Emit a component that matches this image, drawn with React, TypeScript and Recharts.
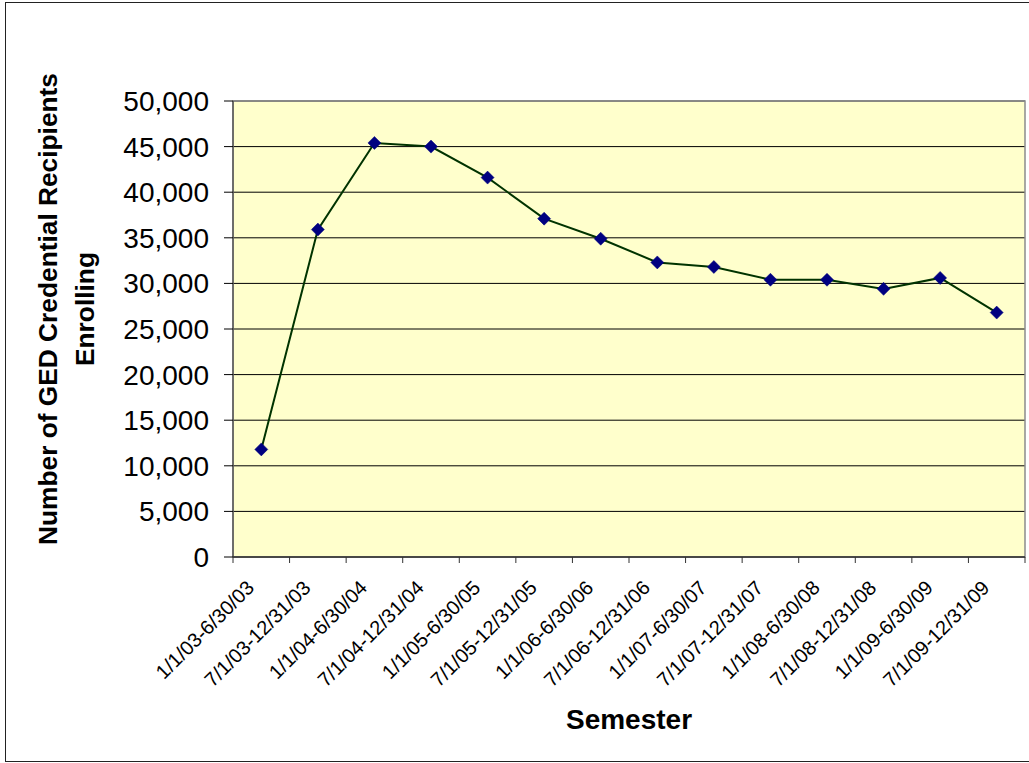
import React from 'react';
import { LineChart, Line, XAxis, YAxis, CartesianGrid, ReferenceArea } from 'recharts';

const semesters = [
  '1/1/03-6/30/03',
  '7/1/03-12/31/03',
  '1/1/04-6/30/04',
  '7/1/04-12/31/04',
  '1/1/05-6/30/05',
  '7/1/05-12/31/05',
  '1/1/06-6/30/06',
  '7/1/06-12/31/06',
  '1/1/07-6/30/07',
  '7/1/07-12/31/07',
  '1/1/08-6/30/08',
  '7/1/08-12/31/08',
  '1/1/09-6/30/09',
  '7/1/09-12/31/09',
];

const enrolling = [11800, 35900, 45400, 45000, 41600, 37100, 34900, 32300, 31800, 30400, 30400, 29400, 30600, 26800];

const yTicks = [0, 5000, 10000, 15000, 20000, 25000, 30000, 35000, 40000, 45000, 50000];

const chartData = semesters.map((semester, i) => ({ semester, enrolling: enrolling[i] }));

const FONT = '"Liberation Sans", Arial, Helvetica, sans-serif';
const lastSemester = semesters[semesters.length - 1];

function Diamond(props: any) {
  const { cx, cy } = props;
  if (cx == null || cy == null) return null;
  return (
    <polygon
      points={`${cx},${cy - 6.5} ${cx + 6.5},${cy} ${cx},${cy + 6.5} ${cx - 6.5},${cy}`}
      fill="#000080"
      stroke="#000080"
      strokeWidth={0.5}
    />
  );
}

// ticks sit on the category boundaries, labels on the centres
function SemesterTick(props: any) {
  const { x, y, payload } = props;
  const half = payload?.offset ?? 0;
  const lx = x - 6;
  const ly = y + 32;
  return (
    <g>
      <line x1={x - half} x2={x - half} y1={y} y2={y + 6} stroke="#333" />
      {payload.value === lastSemester && (
        <line x1={x + half} x2={x + half} y1={y} y2={y + 6} stroke="#333" />
      )}
      <text
        x={lx}
        y={ly}
        textAnchor="end"
        transform={`rotate(-45 ${lx} ${ly})`}
        fontSize={20}
        fontFamily={FONT}
        fill="#000"
      >
        {payload.value}
      </text>
    </g>
  );
}

function YTitle(props: any) {
  const { viewBox } = props;
  const cy = viewBox.y + viewBox.height / 2 - 20;
  const x1 = viewBox.x - 56;
  const x2 = viewBox.x - 19;
  return (
    <g fontFamily={FONT} fontWeight="bold" fontSize={26.3} fill="#000">
      <text x={x1} y={cy} textAnchor="middle" transform={`rotate(-90 ${x1} ${cy})`}>
        Number of GED Credential Recipients
      </text>
      <text x={x2} y={cy} textAnchor="middle" transform={`rotate(-90 ${x2} ${cy})`}>
        Enrolling
      </text>
    </g>
  );
}

function XTitle(props: any) {
  const { viewBox } = props;
  return (
    <text
      x={viewBox.x + viewBox.width / 2}
      y={viewBox.y + 172}
      textAnchor="middle"
      fontFamily={FONT}
      fontWeight="bold"
      fontSize={28}
      fill="#000"
    >
      Semester
    </text>
  );
}

export default function App() {
  return (
    <div style={{ position: 'absolute', left: 0, top: 0, width: 1029, height: 763, background: '#fff' }}>
      <div
        style={{
          position: 'absolute',
          left: 5,
          top: 2,
          width: 1030,
          height: 758,
          border: '1px solid #222',
        }}
      />
      <LineChart
        width={1029}
        height={763}
        data={chartData}
        margin={{ top: 101, right: 4, bottom: 6, left: 113 }}
        style={{ position: 'absolute', left: 0, top: 0 }}
      >
        <CartesianGrid vertical={false} stroke="#000" fill="#FFFFCC" />
        <ReferenceArea y1={0} y2={50000} fill="none" stroke="#8c8c8c" strokeWidth={1.5} ifOverflow="visible" />
        <XAxis
          dataKey="semester"
          scale="band"
          interval={0}
          height={200}
          tickSize={0}
          tickMargin={0}
          tickLine={false}
          axisLine={{ stroke: '#333', strokeWidth: 1.5 }}
          tick={<SemesterTick />}
          label={<XTitle />}
        />
        <YAxis
          domain={[0, 50000]}
          ticks={yTicks}
          interval={0}
          width={120}
          tickSize={9}
          tickMargin={15}
          tickLine={{ stroke: '#000' }}
          axisLine={{ stroke: '#333' }}
          tickFormatter={(v: number) => v.toLocaleString('en-US')}
          tick={{ fontSize: 28, fontFamily: FONT, fill: '#000' }}
          label={<YTitle />}
        />
        <Line
          type="linear"
          dataKey="enrolling"
          stroke="#003300"
          strokeWidth={2}
          dot={<Diamond />}
          activeDot={false}
          isAnimationActive={false}
        />
      </LineChart>
    </div>
  );
}
